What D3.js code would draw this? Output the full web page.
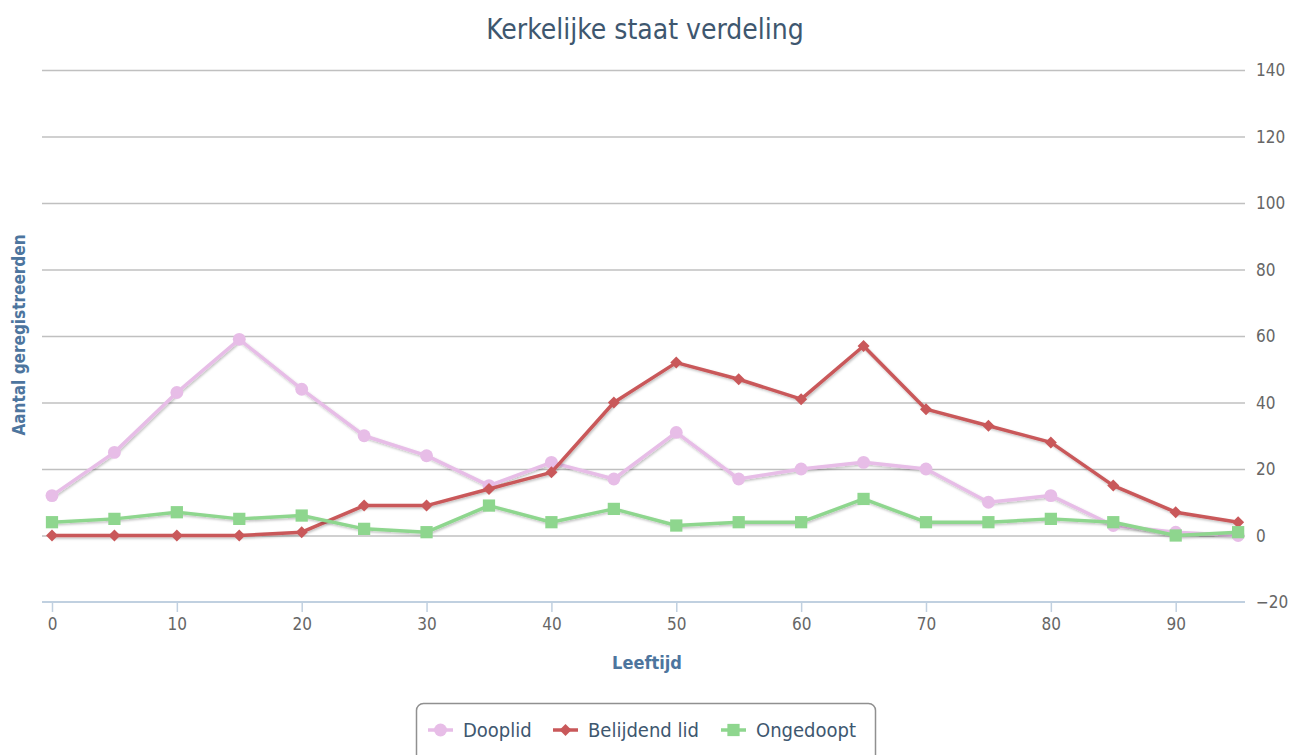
<!DOCTYPE html>
<html>
<head>
<meta charset="utf-8">
<script src="https://cdn.jsdelivr.net/npm/d3@7"></script>
<style>
  body { margin: 0; background: #fff; }
  text { font-family: "DejaVu Sans Condensed", "DejaVu Sans", sans-serif; }
</style>
</head>
<body>
<div id="chart"></div>
<script>
// Kerkelijke staat verdeling

const WIDTH = 1300
const HEIGHT = 755

const AGES = [0, 5, 10, 15, 20, 25, 30, 35, 40, 45, 50, 55, 60, 65, 70, 75, 80, 85, 90, 95]
const DOOPLID = [12, 25, 43, 59, 44, 30, 24, 15, 22, 17, 31, 17, 20, 22, 20, 10, 12, 3, 1, 0]
const BELIJDEND = [0, 0, 0, 0, 1, 9, 9, 14, 19, 40, 52, 47, 41, 57, 38, 33, 28, 15, 7, 4]
const ONGEDOOPT = [4, 5, 7, 5, 6, 2, 1, 9, 4, 8, 3, 4, 4, 11, 4, 4, 5, 4, 0, 1]
const Y_TICKS = [-20, 0, 20, 40, 60, 80, 100, 120, 140]
const X_TICKS = [0, 10, 20, 30, 40, 50, 60, 70, 80, 90]

const SERIES = [
  { name: "Dooplid", color: "#e7bde7", symbol: d3.symbolCircle, size: 130, rot: 0, values: DOOPLID },
  { name: "Belijdend lid", color: "#c9585a", symbol: d3.symbolSquare, size: 72, rot: 45, values: BELIJDEND },
  { name: "Ongedoopt", color: "#8ed68e", symbol: d3.symbolSquare, size: 150, rot: 0, values: ONGEDOOPT }
]

const MARGIN = { left: 42, right: 55, top: 70, bot: 153 }

const SVG = d3.select("#chart")
  .append("svg")
  .attr("width", WIDTH)
  .attr("height", HEIGHT)

const defs = SVG.append("defs")
const shadow = defs.append("filter").attr("id", "shadow")
  .attr("x", "-10%").attr("y", "-10%").attr("width", "120%").attr("height", "130%")
shadow.append("feDropShadow")
  .attr("dx", 1).attr("dy", 1.5).attr("stdDeviation", 1.2)
  .attr("flood-color", "#000").attr("flood-opacity", 0.25)

const x = d3.scaleLinear()
  .domain([-0.8, 95.55])
  .range([MARGIN.left, WIDTH - MARGIN.right])

const y = d3.scaleLinear()
  .domain([-20, 140])
  .range([HEIGHT - MARGIN.bot, MARGIN.top])

// Titel
SVG.append("text")
  .text("Kerkelijke staat verdeling")
  .attr("x", 645)
  .attr("y", 39)
  .attr("text-anchor", "middle")
  .attr("font-size", 28)
  .attr("fill", "#3e576f")

// Grid
const grid = d3.axisRight(y)
  .tickValues(Y_TICKS.filter(t => t > -20))
  .tickFormat("")
  .tickSize(x.range()[1] - x.range()[0])

SVG.append("g")
  .attr("transform", `translate(${MARGIN.left}, 0)`)
  .call(grid)
  .call(g => g.select(".domain").remove())
  .call(g => g.selectAll("line").attr("stroke", "#c0c0c0").attr("stroke-width", 1.5))

// Y labels (rechts)
SVG.append("g")
  .selectAll("text")
  .data(Y_TICKS)
  .join("text")
  .text(d => d === -20 ? "\u221220" : d)
  .attr("x", 1256)
  .attr("y", d => y(d) + 6)
  .attr("font-size", 17)
  .attr("fill", "#666")

// X as
const xAxis = d3.axisBottom(x)
  .tickValues(X_TICKS)
  .tickSize(10)
  .tickPadding(6)

SVG.append("g")
  .attr("transform", `translate(0, ${y(-20)})`)
  .call(xAxis)
  .call(g => g.select(".domain").attr("stroke", "#c0d0e0").attr("stroke-width", 2).attr("d", `M${x.range()[0]},0H${x.range()[1]}`))
  .call(g => g.selectAll(".tick line").attr("stroke", "#c0d0e0").attr("stroke-width", 1.5))
  .call(g => g.selectAll(".tick text")
    .attr("font-size", 17)
    .attr("fill", "#666")
    .attr("font-family", "DejaVu Sans Condensed, sans-serif"))

// As titels
SVG.append("text")
  .text("Leeftijd")
  .attr("x", 647)
  .attr("y", 669)
  .attr("text-anchor", "middle")
  .attr("font-size", 18)
  .attr("font-weight", "bold")
  .attr("fill", "#4d759e")

SVG.append("text")
  .text("Aantal geregistreerden")
  .attr("transform", `translate(25, ${335}) rotate(-90)`)
  .attr("text-anchor", "middle")
  .attr("font-size", 17)
  .attr("font-weight", "bold")
  .attr("fill", "#4d759e")

// Lijnen
const line = d3.line()
  .x((d, i) => x(AGES[i]))
  .y(d => y(d))

const groups = SVG.selectAll("g.serie")
  .data(SERIES)
  .join("g")
  .attr("class", "serie")

groups.append("path")
  .attr("d", d => line(d.values))
  .attr("fill", "none")
  .attr("stroke", d => d.color)
  .attr("stroke-width", 3.5)
  .attr("stroke-linejoin", "round")
  .attr("filter", "url(#shadow)")

groups.each(function (s) {
  d3.select(this).selectAll("path.marker")
    .data(s.values)
    .join("path")
    .attr("class", "marker")
    .attr("d", d3.symbol(s.symbol, s.size))
    .attr("transform", (d, i) => `translate(${x(AGES[i])},${y(d)}) rotate(${s.rot})`)
    .attr("fill", s.color)
})

// Legende
const legend = SVG.append("g")

legend.append("rect")
  .attr("x", 416.5)
  .attr("y", 703.5)
  .attr("width", 459)
  .attr("height", 60)
  .attr("rx", 7)
  .attr("fill", "#fff")
  .attr("stroke", "#909090")
  .attr("stroke-width", 1.5)

const LEGEND_X = [428, 553, 721]

const items = legend.selectAll("g.item")
  .data(SERIES)
  .join("g")
  .attr("class", "item")
  .attr("transform", (d, i) => `translate(${LEGEND_X[i]}, 730)`)

items.append("line")
  .attr("x1", 0).attr("x2", 25)
  .attr("stroke", d => d.color)
  .attr("stroke-width", 3.5)

items.append("path")
  .attr("d", d => d3.symbol(d.symbol, d.size)())
  .attr("transform", d => `translate(12.5, 0) rotate(${d.rot})`)
  .attr("fill", d => d.color)

items.append("text")
  .text(d => d.name)
  .attr("x", 35)
  .attr("y", 7)
  .attr("font-size", 20)
  .attr("fill", "#3e576f")
</script>
</body>
</html>
